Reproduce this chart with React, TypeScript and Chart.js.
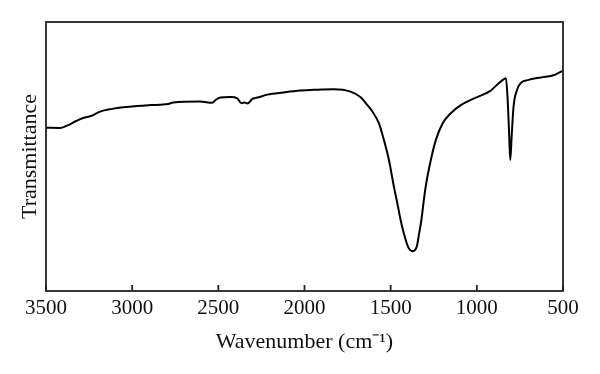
import React, { useEffect, useRef } from "react";
import { Chart, registerables } from "chart.js";

Chart.register(...registerables);

const wavenumbers: number[] = [
  3500, 3419, 3378, 3331, 3285, 3233, 3186, 3116, 3052, 2971, 2895, 2791, 2762, 2605, 2535, 2512,
  2488, 2430, 2390, 2366, 2349, 2331, 2302, 2267, 2215, 2122, 2023, 1936, 1831, 1733, 1674, 1635,
  1606, 1568, 1539, 1510, 1481, 1461, 1442, 1423, 1399, 1374, 1349, 1335, 1322, 1310, 1297, 1267,
  1238, 1199, 1151, 1093, 1016, 919, 899, 851, 831, 821, 812, 806, 798, 787, 767, 744, 705, 628,
  550, 500,
];
const transmittance: number[] = [
  60.7, 60.6, 61.5, 63.0, 64.3, 65.2, 66.7, 67.7, 68.3, 68.8, 69.1, 69.5, 70.1, 70.4, 70.0, 71.2,
  71.9, 72.1, 71.6, 69.8, 70.1, 69.7, 71.4, 72.0, 73.0, 73.8, 74.5, 74.8, 75.0, 74.1, 72.0, 69.1,
  66.7, 62.3, 56.1, 48.7, 38.7, 32.5, 26.3, 21.3, 16.4, 14.8, 16.4, 21.3, 26.3, 32.5, 38.7, 48.7,
  56.1, 62.3, 66.1, 69.1, 71.6, 74.5, 75.7, 78.4, 79.1, 71.0, 57.4, 48.7, 57.4, 68.5, 74.7, 77.4,
  78.4, 79.4, 80.3, 81.9,
];
const xTicks: number[] = [3500, 3000, 2500, 2000, 1500, 1000, 500];
const xTitle = "Wavenumber (cm\u207B\u00B9)";
const yTitle = "Transmittance";

const FONT = "'Liberation Serif', 'Times New Roman', serif";

const framePlugin = {
  id: "frameTicks",
  afterDraw(chart: any) {
    const { ctx, chartArea } = chart;
    const xs = chart.scales.x;
    ctx.save();
    ctx.strokeStyle = "#222";
    ctx.lineWidth = 1.8;
    ctx.strokeRect(chartArea.left, chartArea.top, chartArea.right - chartArea.left, chartArea.bottom - chartArea.top);
    ctx.beginPath();
    for (const t of xTicks) {
      const px = xs.getPixelForValue(t);
      ctx.moveTo(px, chartArea.bottom);
      ctx.lineTo(px, chartArea.bottom - 6);
    }
    ctx.stroke();
    ctx.restore();
  },
};

export default function App() {
  const ref = useRef<HTMLCanvasElement | null>(null);
  useEffect(() => {
    if (!ref.current) return;
    const chart = new Chart(ref.current, {
      type: "line",
      data: {
        datasets: [
          {
            data: wavenumbers.map((w, i) => ({ x: w, y: transmittance[i] })),
            borderColor: "#000",
            borderWidth: 2,
            pointRadius: 0,
            fill: false,
            cubicInterpolationMode: "monotone",
          },
        ],
      },
      options: {
        responsive: false,
        animation: false,
        layout: { padding: { top: 22, right: 37, left: 0, bottom: 0 } },
        plugins: { legend: { display: false }, tooltip: { enabled: false } },
        scales: {
          x: {
            type: "linear",
            reverse: true,
            min: 500,
            max: 3500,
            afterBuildTicks: (scale: any) => {
              scale.ticks = xTicks.map((v) => ({ value: v }));
            },
            afterFit: (scale: any) => {
              scale.height = 83;
            },
            grid: { display: false, drawTicks: false },
            border: { display: false },
            ticks: {
              color: "#111",
              padding: 5,
              maxRotation: 0,
              font: { family: FONT, size: 21 },
              callback: (v: any) => String(v),
            },
            title: {
              display: true,
              text: xTitle,
              color: "#111",
              font: { family: FONT, size: 22 },
              padding: { top: 0, bottom: 19 },
            },
          },
          y: {
            min: 0,
            max: 100,
            afterFit: (scale: any) => {
              scale.width = 46;
            },
            grid: { display: false, drawTicks: false },
            border: { display: false },
            ticks: { display: false },
            title: {
              display: true,
              text: yTitle,
              color: "#111",
              font: { family: FONT, size: 22 },
              padding: { top: 17, bottom: 0 },
            },
          },
        },
      },
      plugins: [framePlugin],
    } as any);
    return () => chart.destroy();
  }, []);
  return (
    <div style={{ position: "fixed", left: 0, top: 0, width: 600, height: 374, background: "#fff" }}>
      <canvas ref={ref} width={600} height={374} />
    </div>
  );
}
